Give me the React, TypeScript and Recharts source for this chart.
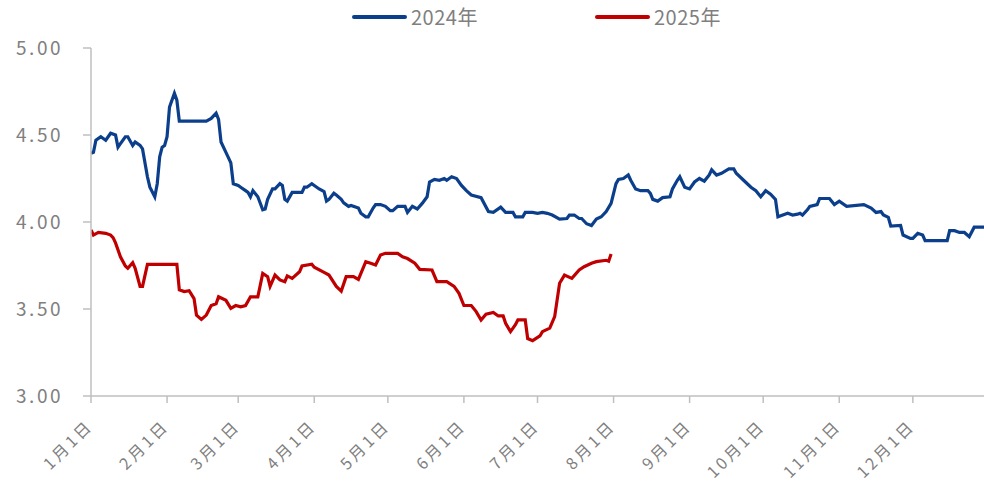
import { LineChart, Line, XAxis, YAxis } from "recharts";

const BLUE = "#0B3F8C";
const RED = "#C00000";
const GRAY = "#7F7F7F";
const AXIS = "#BFBFBF";
const FONT = "'Noto Sans CJK SC', 'Noto Sans', sans-serif";

// day of year (0 = 1月1日)
const days2024 = [
  0, 1, 2, 4, 5, 6, 8, 10, 11, 12, 14, 15, 17, 18, 20, 21, 23, 24, 26, 27, 28, 29, 30, 31, 32, 34, 35, 36,
  47, 49, 51, 52, 53, 55, 57, 58, 60, 61, 63, 64, 65, 66, 68, 70, 71, 72, 74, 75, 77, 78, 79, 80, 82, 86,
  87, 88, 90, 91, 93, 95, 96, 97, 99, 100, 102, 103, 105, 106, 109, 110, 112, 113, 115, 116, 118, 120, 122,
  123, 125, 128, 129, 131, 133, 135, 137, 138, 140, 142, 144, 145, 147, 149, 151, 153, 155, 159, 162, 164,
  167, 169, 172, 173, 176, 177, 180, 182, 184, 186, 188, 191, 194, 195, 197, 199, 200, 202, 204, 206, 208,
  210, 212, 214, 215, 217, 219, 220, 222, 224, 227, 228, 229, 231, 233, 236, 237, 239, 240, 242, 244, 246,
  248, 250, 252, 253, 255, 257, 260, 262, 263, 266, 269, 271, 273, 275, 277, 279, 280, 282, 284, 286, 288,
  289, 290, 292, 293, 296, 297, 301, 303, 305, 308, 315, 318, 320, 322, 323, 325, 326, 330, 331, 334, 335,
  337, 339, 340, 349, 350, 352, 354, 356, 358, 360, 364,
];
const price2024 = [
  4.395, 4.4, 4.47, 4.49, 4.48, 4.47, 4.51, 4.5, 4.43, 4.45, 4.49, 4.49, 4.44, 4.46, 4.44, 4.42, 4.26, 4.2,
  4.145, 4.22, 4.375, 4.43, 4.44, 4.49, 4.66, 4.74, 4.7, 4.58,
  4.58, 4.595, 4.625, 4.59, 4.46, 4.4, 4.34, 4.22, 4.21, 4.2, 4.18, 4.17, 4.145, 4.18, 4.145, 4.07, 4.075,
  4.13, 4.19, 4.19, 4.22, 4.21, 4.13, 4.12, 4.17, 4.17,
  4.2, 4.2, 4.22, 4.21, 4.19, 4.175, 4.12, 4.13, 4.165, 4.155, 4.13, 4.11, 4.09, 4.095, 4.08, 4.05, 4.03,
  4.03, 4.08, 4.1, 4.1, 4.09, 4.065,
  4.065, 4.09, 4.09, 4.055, 4.09, 4.075, 4.107, 4.145, 4.23, 4.245, 4.24, 4.25, 4.24, 4.26, 4.25, 4.21,
  4.18, 4.155, 4.14, 4.06, 4.055,
  4.085, 4.055, 4.055, 4.03, 4.03, 4.055, 4.055, 4.05, 4.055, 4.05, 4.04, 4.017, 4.02, 4.04, 4.04, 4.02,
  4.02, 3.99, 3.98, 4.017, 4.03,
  4.06, 4.107, 4.22, 4.245, 4.25, 4.27, 4.24, 4.19, 4.18, 4.18, 4.165, 4.13, 4.12, 4.14, 4.145, 4.19, 4.24,
  4.26, 4.2, 4.19, 4.23,
  4.25, 4.235, 4.27, 4.3, 4.27, 4.28, 4.305, 4.305, 4.28, 4.24, 4.2, 4.18, 4.145, 4.18, 4.16, 4.13, 4.03,
  4.04, 4.05, 4.04, 4.045,
  4.05, 4.04, 4.07, 4.09, 4.1, 4.135, 4.135, 4.1, 4.12, 4.09, 4.1, 4.08, 4.055, 4.06, 4.04, 4.027, 3.977,
  3.98, 3.925, 3.906, 3.906,
  3.935, 3.925, 3.893, 3.893, 3.95, 3.95, 3.94, 3.94, 3.915, 3.97, 3.97,
];

const days2025 = [
  0, 1, 3, 6, 8, 9, 10, 12, 14, 15, 17, 18, 20, 21, 23, 35, 36, 38, 40, 42, 43, 45, 47, 49, 51, 52, 55, 57,
  59, 61, 63, 65, 68, 70, 72, 73, 75, 77, 79, 80, 82, 85, 86, 90, 91, 95, 97, 100, 102, 104, 107, 109, 112,
  114, 116, 118, 120, 125, 127, 129, 132, 134, 139, 141, 145, 148, 150, 152, 155, 157, 159, 161, 164, 166,
  168, 169, 171, 173, 174, 177, 178, 180, 183, 184, 187, 189, 191, 193, 196, 199, 201, 204, 206, 210, 211,
  212,
];
const price2025 = [
  3.954, 3.925, 3.94, 3.935, 3.925, 3.91, 3.88, 3.8, 3.747, 3.734, 3.766, 3.734, 3.63, 3.63, 3.757, 3.757,
  3.61, 3.6, 3.605, 3.56, 3.465, 3.44, 3.465, 3.52, 3.53, 3.57, 3.55, 3.504,
  3.52, 3.513, 3.52, 3.57, 3.57, 3.705, 3.686, 3.63, 3.695, 3.667, 3.657, 3.69, 3.676, 3.714, 3.747, 3.757,
  3.74, 3.71, 3.695, 3.63, 3.603, 3.686, 3.686, 3.67, 3.772,
  3.763, 3.753, 3.81, 3.82, 3.82, 3.8, 3.79, 3.763, 3.728, 3.724, 3.657, 3.657, 3.63, 3.59, 3.52, 3.52,
  3.485, 3.437, 3.47, 3.48, 3.46,
  3.46, 3.418, 3.37, 3.41, 3.437, 3.437, 3.33, 3.318, 3.345, 3.37, 3.39, 3.456, 3.648, 3.695, 3.676, 3.724,
  3.743, 3.763, 3.772, 3.78, 3.775,
  3.816,
];

const monthStarts = [0, 31, 60, 91, 121, 152, 182, 213, 244, 274, 305, 335];
const monthLabels = [
  "1月1日", "2月1日", "3月1日", "4月1日", "5月1日", "6月1日",
  "7月1日", "8月1日", "9月1日", "10月1日", "11月1日", "12月1日",
];
const yTicks = [3, 3.5, 4, 4.5, 5];

const data2024 = days2024.map((day, i) => ({ day, value: price2024[i] }));
const data2025 = days2025.map((day, i) => ({ day, value: price2025[i] }));

function MonthTick({ x, y, payload }: any) {
  const idx = monthStarts.indexOf(payload.value);
  return (
    <g transform={`translate(${x - 1},${y + 18})`}>
      <text
        x={0}
        y={0}
        dy="0.35em"
        textAnchor="end"
        transform="rotate(-45)"
        fill={GRAY}
        fontSize={16}
        letterSpacing={3}
        fontFamily={FONT}
      >
        {monthLabels[idx]}
      </text>
    </g>
  );
}

function LegendItem({ color, label, left }: { color: string; label: string; left: number }) {
  return (
    <div style={{ position: "absolute", left, top: 3, display: "flex", alignItems: "center" }}>
      <div style={{ width: 55, height: 3.5, background: color, borderRadius: 2 }} />
      <span
        style={{
          marginLeft: 4,
          color: GRAY,
          fontSize: 20,
          letterSpacing: 0.5,
          fontFamily: FONT,
          lineHeight: "28px",
        }}
      >
        {label}
      </span>
    </div>
  );
}

export default function App() {
  return (
    <div style={{ position: "absolute", left: 0, top: 0, width: 984, height: 483, background: "#fff" }}>
      <LegendItem color={BLUE} label="2024年" left={352} />
      <LegendItem color={RED} label="2025年" left={595} />
      <LineChart
        width={984}
        height={483}
        margin={{ top: 48, right: 0, left: 0, bottom: 0 }}
      >
        <XAxis
          type="number"
          dataKey="day"
          domain={[0, 364]}
          ticks={monthStarts}
          tick={<MonthTick />}
          interval={0}
          height={87}
          stroke={AXIS}
          strokeWidth={1.5}
          tickSize={7}
          allowDataOverflow
        />
        <YAxis
          type="number"
          domain={[3, 5]}
          ticks={yTicks}
          width={91}
          stroke={AXIS}
          strokeWidth={1.5}
          tickSize={8}
          tickMargin={20}
          tickFormatter={(v: number) => v.toFixed(2)}
          tick={{ fill: GRAY, fontSize: 19, fontFamily: FONT, letterSpacing: 2.5 }}
        />
        <Line
          data={data2024}
          dataKey="value"
          type="linear"
          stroke={BLUE}
          strokeWidth={3.2}
          dot={false}
          isAnimationActive={false}
        />
        <Line
          data={data2025}
          dataKey="value"
          type="linear"
          stroke={RED}
          strokeWidth={3.2}
          dot={false}
          isAnimationActive={false}
        />
      </LineChart>
    </div>
  );
}
